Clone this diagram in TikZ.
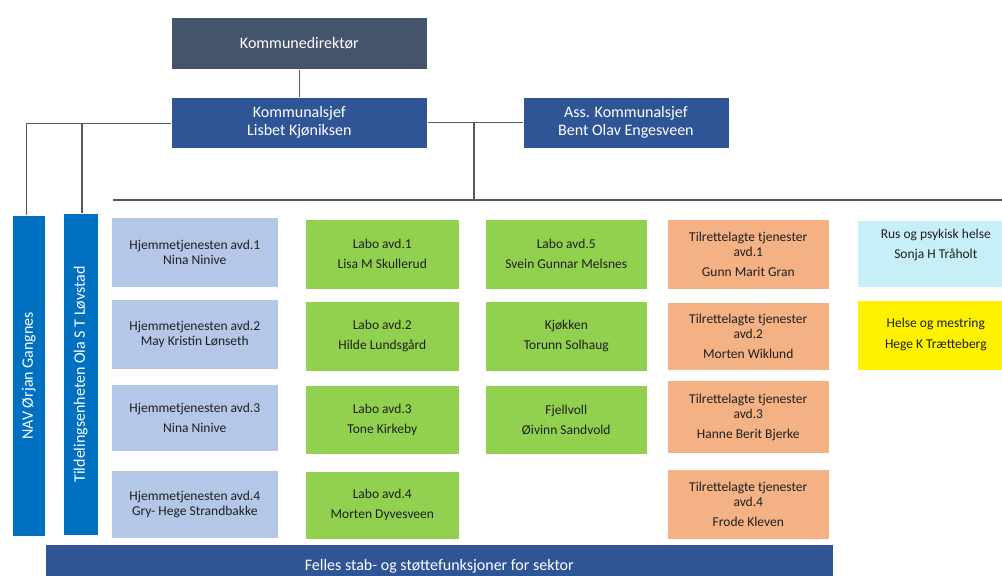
\documentclass[tikz,border=0pt]{standalone}
\usepackage{fontspec}
\setmainfont{Carlito}
\usetikzlibrary{calc,positioning}

\definecolor{dirgrey}{HTML}{44546A}
\definecolor{sjefblue}{HTML}{2F5597}
\definecolor{navblue}{HTML}{0070C0}
\definecolor{hjemblue}{HTML}{B4C7E7}
\definecolor{labogreen}{HTML}{92D050}
\definecolor{tilrorange}{HTML}{F4B183}
\definecolor{ruscyan}{HTML}{C6EFF7}
\definecolor{linegrey}{HTML}{595959}

\begin{document}
\begin{tikzpicture}[x=1pt, y=1pt, node distance=11pt and 26pt]

		\tikzstyle{all} = [draw=white, line width=0.6pt, inner sep=0pt, align=center, anchor=north west]
		\tikzstyle{head} = [all, text=white, minimum height=51pt, font=\fontsize{16}{18}\selectfont]
		\tikzstyle{bar} = [all, fill=navblue, text=white, font=\fontsize{16}{18}\selectfont]
		\tikzstyle{unit} = [all, text=black!88, minimum height=70pt, font=\fontsize{13.5}{15}\selectfont]
		\tikzstyle{hjem} = [unit, fill=hjemblue, minimum width=167pt]
		\tikzstyle{labo} = [unit, fill=labogreen, minimum width=154pt]
		\tikzstyle{drift} = [unit, fill=labogreen, minimum width=162pt]
		\tikzstyle{tilr} = [unit, fill=tilrorange, minimum width=162pt]
		\tikzstyle{extra} = [unit, minimum width=157pt]
		\tikzstyle{conn} = [draw=linegrey, line width=1.4pt]

		\useasboundingbox (0,0) rectangle (1002,-576);
		\clip (0,0) rectangle (1002,-576);

		% ledelse
		\node [head, fill=dirgrey, minimum width=256pt, minimum height=52pt] (dir) at (171,-17) {Kommunedirektør};
		\node [head, fill=sjefblue, minimum width=256pt, below = 27pt of dir] (sjef) {Kommunalsjef\\Lisbet Kjøniksen};
		\node [head, fill=sjefblue, minimum width=206pt, right = 95pt of sjef] (ass) {Ass. Kommunalsjef\\Bent Olav Engesveen};

		% staber til venstre
		\node [bar, minimum width=33pt, minimum height=321pt] (nav) at (12,-215) {\rotatebox{90}{NAV Ørjan Gangnes}};
		\node [bar, minimum width=35pt, minimum height=322pt] (tild) at (63,-213) {\rotatebox{90}{Tildelingsenheten Ola S T Løvstad}};

		% hjemmetjenesten
		\node [hjem] (hjem1) at (111,-217) {Hjemmetjenesten avd.1\\Nina Ninive};
		\node [hjem, below = of hjem1] (hjem2) {Hjemmetjenesten avd.2\\May Kristin Lønseth};
		\node [hjem, minimum height=67pt, below = 15pt of hjem2] (hjem3) {Hjemmetjenesten avd.3\\[5pt]Nina Ninive};
		\node [hjem, minimum height=68pt, below = 18pt of hjem3] (hjem4) {Hjemmetjenesten avd.4\\Gry- Hege Strandbakke};

		% labo
		\node [labo] (labo1) at (305,-219) {Labo avd.1\\[5pt]Lisa M Skullerud};
		\node [labo, below = of labo1] (labo2) {Labo avd.2\\[5pt]Hilde Lundsgård};
		\node [labo, minimum height=69pt, below = 14pt of labo2] (labo3) {Labo avd.3\\[5pt]Tone Kirkeby};
		\node [labo, minimum height=68pt, below = 16pt of labo3] (labo4) {Labo avd.4\\[5pt]Morten Dyvesveen};

		\node [drift] (labo5) at (485,-219) {Labo avd.5\\[5pt]Svein Gunnar Melsnes};
		\node [drift, below = of labo5] (kjokken) {Kjøkken\\[5pt]Torunn Solhaug};
		\node [drift, minimum height=69pt, below = 14pt of kjokken] (fjell) {Fjellvoll\\[5pt]Øivinn Sandvold};

		% tilrettelagte tjenester
		\node [tilr] (tilr1) at (667,-219) {Tilrettelagte tjenester\\avd.1\\[5pt]Gunn Marit Gran};
		\node [tilr, minimum height=68pt, below = 12pt of tilr1] (tilr2) {Tilrettelagte tjenester\\avd.2\\[5pt]Morten Wiklund};
		\node [tilr, minimum height=73pt, below = 10pt of tilr2] (tilr3) {Tilrettelagte tjenester\\avd.3\\[5pt]Hanne Berit Bjerke};
		\node [tilr, minimum height=70pt, below = 15pt of tilr3] (tilr4) {Tilrettelagte tjenester\\avd.4\\[5pt]Frode Kleven};

		% helse
		\node [extra, fill=ruscyan, minimum height=67pt] (rus) at (857,-220) {Rus og psykisk helse\\[5pt]Sonja H Tråholt\\[5pt]~};
		\node [extra, fill=yellow, below = 12pt of rus] (helse) {Helse og mestring\\[6pt]Hege K Trætteberg};

		\node [bar, fill=sjefblue, minimum width=788pt, minimum height=44pt] (felles) at (45,-544) {Felles stab- og støttefunksjoner for sektor};

		% linjer
		\coordinate (busL) at (113,-200);
		\coordinate (busR) at (1002,-200);
		\coordinate (tap) at ($(sjef.east)!0.49!(ass.west)$);

		\draw [conn] (dir) -- (sjef);
		\draw [conn] (sjef.east) -- (ass.west);
		\draw [conn] (tap) -- (tap |- busL);
		\draw [conn] (busL) -- (busR);
		\draw [conn] ([yshift=-1pt]sjef.west) -| ([xshift=-2.5pt]nav.north);
		\draw [conn] ([yshift=-1pt]sjef.west) -| ([xshift=1pt]tild.north);

\end{tikzpicture}
\end{document}
